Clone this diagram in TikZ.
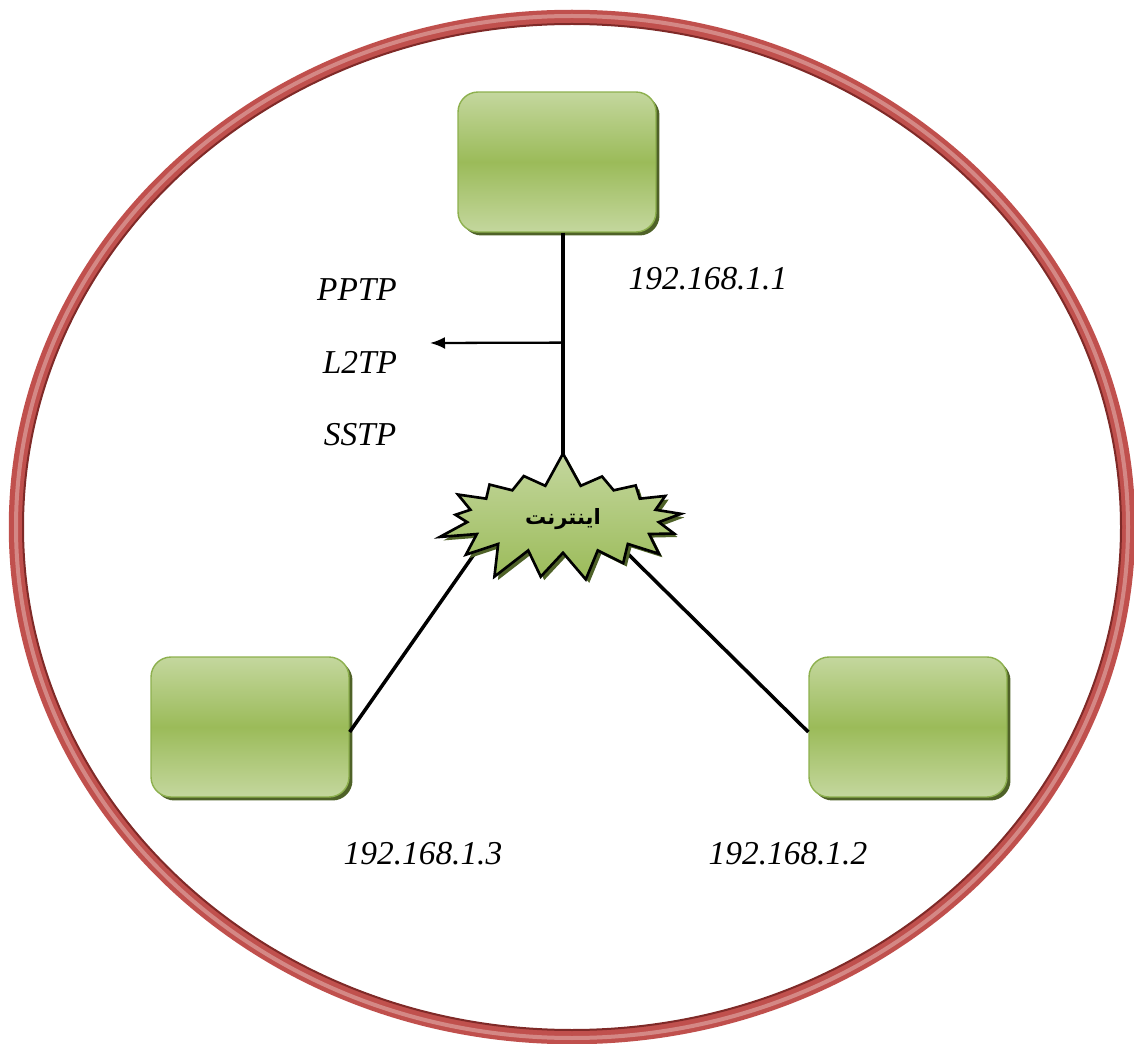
\documentclass[tikz,border=0pt]{standalone}
\usepackage{fontspec}
\setmainfont{Liberation Serif}
\newfontfamily\arabicfont[Script=Arabic]{DejaVu Sans}
\TeXXeTstate=1
\usetikzlibrary{arrows.meta, positioning, calc, shapes.symbols, shadows}
\definecolor{ringred}{HTML}{C0504D}
\definecolor{ringlight}{HTML}{D99694}
\definecolor{ringdark}{HTML}{7F2A28}
\definecolor{gtop}{HTML}{C4D79E}
\definecolor{gmid}{HTML}{9BBB59}
\definecolor{gedge}{HTML}{8DB04E}
\definecolor{gshadow}{HTML}{4F6228}

\begin{document}
\begin{tikzpicture}[x=0.02cm, y=-0.02cm,
  box/.style={rectangle, rounded corners=0.4cm, draw=gedge, line width=0.8pt,
    minimum width=3.96cm, minimum height=2.8cm,
    top color=gtop, bottom color=gtop, middle color=gmid,
    drop shadow={shadow xshift=0.07cm, shadow yshift=-0.07cm, fill=gshadow, opacity=1}},
  sb/.style={starburst, starburst points=17, starburst point height=0.7cm,
    random starburst=7, minimum width=5.25cm, minimum height=2.75cm,
    draw=black, line width=1.5pt, top color=gtop, bottom color=gmid,
    drop shadow={shadow xshift=0.07cm, shadow yshift=-0.07cm, fill=gshadow, opacity=1}},
  lnk/.style={line width=2pt, draw=black},
  a/.style={-{Latex[length=3mm, width=2.4mm]}, line width=1.3pt, draw=black},
  ip/.style={font=\fontsize{19}{22}\selectfont\itshape}]
  \useasboundingbox (0,0) rectangle (1134,1044);
  % ring round the whole network
  \draw[ringred, line width=0.29cm] (572,527) ellipse [x radius=556, y radius=510];
  \draw[ringlight, line width=0.08cm, opacity=0.8] (572,527) ellipse [x radius=556, y radius=511];
  \draw[ringdark, line width=0.04cm] (572,527) ellipse [x radius=549, y radius=503];
  \node[box] (top) at (557,162) {};
  \node[box] (left) at (250,727) {};
  \node[box] (right) at (908,727) {};
  \coordinate (bl) at (475,553);
  \coordinate (br) at (627,553);
  \coordinate (tip) at (430,343);
  \draw[lnk] (left.east) ++(0,5) -- (bl);
  \draw[lnk] (right.west) ++(0,5) -- (br);
  \node[sb] (net) at (563,519) {\arabicfont\fontsize{12}{14}\selectfont\bfseries\beginR اینترنت\endR};
  \draw[lnk] ([xshift=0.12cm]top.south) -- ([xshift=0.12cm]top.south |- 0,457);
  \draw[a] ($([xshift=0.12cm]top.south)!0.49!([xshift=0.12cm]top.south |- 0,457)$) -- (tip);
  % protocols and addresses
  \node[ip] (pptp) at (357,290) {PPTP};
  \node[ip] (l2tp) at (360,362) {L2TP};
  \node[ip] (sstp) at (360,435) {SSTP};
  \node[ip] (ip1) at (708,279) {192.168.1.1};
  \node[ip] (ip3) at (423,854) {192.168.1.3};
  \node[ip] (ip2) at (788,854) {192.168.1.2};
\end{tikzpicture}
\end{document}
